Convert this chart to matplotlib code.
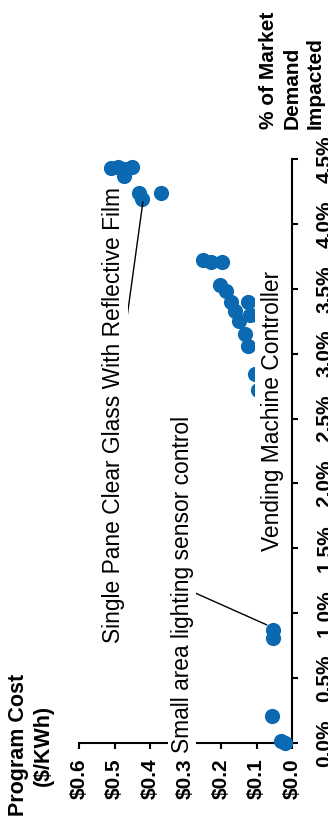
import matplotlib
matplotlib.use("Agg")
import matplotlib.pyplot as plt

plt.rcParams['font.family'] = ['Liberation Sans', 'DejaVu Sans']

# ---- data (program cost $/kWh, cumulative % of market demand impacted) ----
cost = [0.020, 0.031, 0.057, 0.054, 0.054,
        0.079, 0.096, 0.105, 0.099,
        0.125, 0.133, 0.148, 0.119, 0.160, 0.125, 0.172, 0.185, 0.204,
        0.198, 0.227, 0.252,
        0.370, 0.431, 0.422,
        0.509, 0.490, 0.470, 0.452, 0.474]
pct = [0.00, 0.015, 0.21, 0.81, 0.87,
       2.60, 2.72, 2.84, 3.30,
       3.06, 3.15, 3.25, 3.30, 3.33, 3.40, 3.40, 3.48, 3.53,
       3.71, 3.71, 3.72,
       4.24, 4.24, 4.19,
       4.43, 4.44, 4.42, 4.44, 4.37]

cost_ticks = [0.0, 0.1, 0.2, 0.3, 0.4, 0.5, 0.6]
cost_labels = ['$0.0', '$0.1', '$0.2', '$0.3', '$0.4', '$0.5', '$0.6']
pct_ticks = [0.0, 0.5, 1.0, 1.5, 2.0, 2.5, 3.0, 3.5, 4.0, 4.5]
pct_labels = ['0.0%', '0.5%', '1.0%', '1.5%', '2.0%', '2.5%', '3.0%', '3.5%', '4.0%', '4.5%']

annotations = [
    ('Single Pane Clear Glass With Reflective Film', (0.420, 4.17)),
    ('Small area lighting sensor control', (0.071, 0.91)),
    ('Vending Machine Controller', None),
]

W, H = 328, 831
fig = plt.figure(figsize=(W / 100, H / 100), dpi=100)
ax = fig.add_axes([79 / W, 1 - 743 / H, (292 - 79) / W, (743 - 159) / H])

ax.scatter(cost, pct, s=120, color='#0a69b1', linewidths=0, clip_on=False, zorder=3)

ax.set_xlim(0.6, 0.0)
ax.set_ylim(0.0, 4.5)
for s in ('top', 'left'):
    ax.spines[s].set_visible(False)
for s in ('bottom', 'right'):
    ax.spines[s].set_linewidth(1.5)
ax.yaxis.tick_right()
ax.set_xticks(cost_ticks)
ax.set_xticklabels(cost_labels, rotation=90, fontsize=15, fontweight='bold')
ax.set_yticks(pct_ticks)
ax.set_yticklabels(pct_labels, rotation=90, fontsize=15, fontweight='bold', va='center')
ax.tick_params(axis='x', direction='out', length=4, width=1.5, pad=7)
ax.tick_params(axis='y', direction='out', length=4, width=1.5, pad=13)

def fp(x, y):
    return (x / W, 1 - y / H)

fig.text(*fp(31, 745), 'Program Cost\n($/KWh)', rotation=90, ha='center', va='center',
         multialignment='center', fontsize=15.5, fontweight='bold', linespacing=1.2)
fig.text(*fp(292, 129), '% of Market\nDemand\nImpacted', rotation=90, ha='center', va='bottom',
         multialignment='left', fontsize=15, fontweight='bold', linespacing=1.3)

text_pos = [(114, 415), (182, 584), (272, 411)]
text_pad = [0.1, 0.1, 0.25]
line_start = [(125, 332), (193, 592), None]
for (label, target), (tx, ty), ls, pd in zip(annotations, text_pos, line_start, text_pad):
    if target is not None and ls is not None:
        ax.annotate('', xy=target, xycoords='data', xytext=(ls[0], H - ls[1]),
                    textcoords='figure pixels',
                    arrowprops=dict(arrowstyle='-', color='black', lw=1,
                                    shrinkA=0, shrinkB=0), annotation_clip=False)
    fig.text(*fp(tx, ty), label, rotation=90, ha='center', va='center',
             fontsize=16.4, bbox=dict(boxstyle=f'square,pad={pd}', fc='white', ec='none'))

fig.savefig('out.png', dpi=100)
